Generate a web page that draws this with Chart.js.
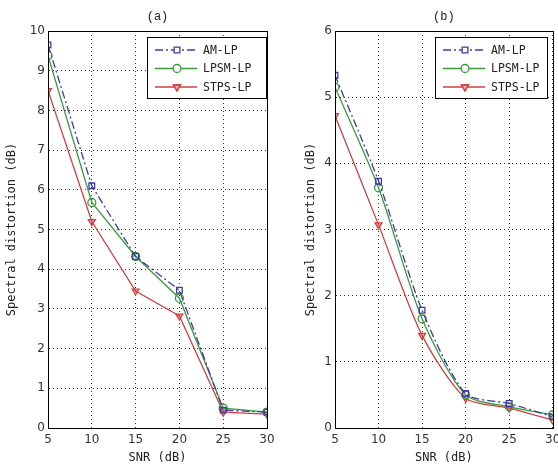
<!DOCTYPE html>
<html>
<head>
<meta charset="utf-8">
<title>Spectral distortion vs SNR</title>
<script src="https://cdn.jsdelivr.net/npm/chart.js@4.4.0/dist/chart.umd.min.js"></script>
<style>
  html, body { margin: 0; padding: 0; background: #fff; }
  .box { position: absolute; top: 0; width: 279px; height: 465px; }
  #boxA { left: 0; }
  #boxB { left: 279px; }
</style>
</head>
<body>
<div class="box" id="boxA"><canvas id="chartA"></canvas></div>
<div class="box" id="boxB"><canvas id="chartB"></canvas></div>
<script>
// SNR values (dB)
var snr = [5, 10, 15, 20, 25, 30];
var seriesNames = ["AM-LP", "LPSM-LP", "STPS-LP"];

// panel (a)
var amA   = [9.65, 6.10, 4.32, 3.47, 0.45, 0.40];
var lpsmA = [9.38, 5.68, 4.32, 3.27, 0.50, 0.40];
var stpsA = [8.50, 5.20, 3.45, 2.82, 0.40, 0.35];

// panel (b)
var amB   = [5.33, 3.73, 1.78, 0.52, 0.37, 0.17];
var lpsmB = [5.15, 3.63, 1.65, 0.50, 0.32, 0.20];
var stpsB = [4.72, 3.07, 1.40, 0.45, 0.30, 0.12];

var xTicks = [5, 10, 15, 20, 25, 30];
var yTicksA = [0, 1, 2, 3, 4, 5, 6, 7, 8, 9, 10];
var yTicksB = [0, 1, 2, 3, 4, 5, 6];

var styles = [
  { color: "#3b3ba8", dash: [8, 3, 2, 3], point: "rect", rot: 0, fill: "rgba(255,255,255,0)" },
  { color: "#3a9a3a", dash: [], point: "circle", rot: 0, fill: "rgba(255,255,255,0)" },
  { color: "#d04040", dash: [], point: "triangle", rot: 180, fill: "rgba(208,64,64,0.35)" }
];

function pts(vals) {
  return vals.map(function (v, i) { return { x: snr[i], y: v }; });
}

var mono = "'DejaVu Sans Mono', monospace";

// frame + legend + title drawn on top of the plot
var decor = {
  id: "decor",
  afterDatasetsDraw: function (chart, args, opts) {
    var c = chart.ctx, a = chart.chartArea;
    c.save();
    c.strokeStyle = "#000";
    c.lineWidth = 1;
    c.setLineDash([]);
    c.strokeRect(Math.round(a.left) + 0.5, Math.round(a.top) + 0.5,
                 Math.round(a.right - a.left), Math.round(a.bottom - a.top));

    // title
    c.fillStyle = "#222";
    c.font = "12px 'Liberation Mono', monospace";
    c.textAlign = "center";
    c.textBaseline = "middle";
    c.fillText(opts.title, (a.left + a.right) / 2, 17);

    // legend box
    var bx = opts.lx, by = a.top + 6, bw = opts.lw, bh = 61;
    c.fillStyle = "#fff";
    c.fillRect(bx, by, bw, bh);
    c.strokeRect(bx + 0.5, by + 0.5, bw, bh);
    c.font = "11.5px " + mono;
    c.textAlign = "left";
    chart.data.datasets.forEach(function (ds, i) {
      var y = by + 13 + i * 18.5;
      var st = styles[i];
      c.strokeStyle = st.color;
      c.lineWidth = 1.3;
      c.setLineDash(st.dash);
      c.beginPath();
      c.moveTo(bx + 8, y);
      c.lineTo(bx + 50, y);
      c.stroke();
      c.setLineDash([]);
      c.fillStyle = "#fff";
      Chart.helpers.drawPoint(c, {
        pointStyle: st.point, rotation: st.rot, radius: 4, borderWidth: 1.2
      }, bx + 30, y);
      if (st.rot) {
        c.fillStyle = st.fill;
        Chart.helpers.drawPoint(c, {
          pointStyle: st.point, rotation: st.rot, radius: 4, borderWidth: 1.2
        }, bx + 30, y);
      }
      c.fillStyle = "#222";
      c.fillText(ds.label, bx + 56, y + 1);
    });
    c.restore();
  }
};

function makeChart(id, data, yMax, yTicks, opt) {
  var datasets = data.map(function (vals, i) {
    var st = styles[i];
    return {
      label: seriesNames[i],
      data: pts(vals),
      borderColor: st.color,
      backgroundColor: "rgba(255,255,255,0)",
      borderWidth: 1.3,
      borderDash: st.dash,
      pointStyle: st.point,
      pointRotation: st.rot,
      pointRadius: 4,
      pointBorderWidth: 1.3,
      pointBorderColor: st.color,
      pointBackgroundColor: st.fill,
      tension: opt.tension
    };
  });
  return new Chart(document.getElementById(id), {
    type: "line",
    data: { datasets: datasets },
    options: {
      responsive: true,
      maintainAspectRatio: false,
      animation: false,
      layout: { padding: { left: 0, right: opt.padRight, top: 31, bottom: 0 } },
      plugins: {
        legend: { display: false },
        tooltip: { enabled: false },
        decor: opt.decor
      },
      scales: {
        x: {
          type: "linear", min: 5, max: 30,
          afterBuildTicks: function (s) { s.ticks = xTicks.map(function (v) { return { value: v }; }); },
          grid: { color: "#333", lineWidth: 1, drawTicks: false },
          border: { display: true, color: "#000", dash: [1, 3] },
          ticks: { font: { family: "'DejaVu Sans', sans-serif", size: 12 }, color: "#333", padding: 5, maxRotation: 0 },
          title: { display: true, text: "SNR (dB)", font: { family: mono, size: 12 }, color: "#222", padding: { top: 0, bottom: 0 } },
          afterFit: function (s) { s.height = 37; s.paddingLeft = 0; s.paddingRight = 0; }
        },
        y: {
          type: "linear", min: 0, max: yMax,
          afterBuildTicks: function (s) { s.ticks = yTicks.map(function (v) { return { value: v }; }); },
          grid: { color: "#333", lineWidth: 1, drawTicks: false },
          border: { display: true, color: "#000", dash: [1, 3] },
          ticks: { font: { family: "'DejaVu Sans', sans-serif", size: 12 }, color: "#333", padding: 3 },
          title: { display: true, text: "Spectral distortion (dB)", font: { family: mono, size: 12 }, color: "#222", padding: { top: opt.titleLeft, bottom: 0 } },
          afterFit: function (s) { s.width = opt.yWidth; }
        }
      }
    },
    plugins: [decor]
  });
}

var chA = makeChart("chartA", [amA, lpsmA, stpsA], 10, yTicksA, {
  padRight: 12, yWidth: 48, titleLeft: 5, tension: 0,
  decor: { title: "(a)", lx: 147, lw: 119 }
});
var chB = makeChart("chartB", [amB, lpsmB, stpsB], 6, yTicksB, {
  padRight: 3, yWidth: 56, titleLeft: 25, tension: 0.25,
  decor: { title: "(b)", lx: 156, lw: 112 }
});
</script>
</body>
</html>
